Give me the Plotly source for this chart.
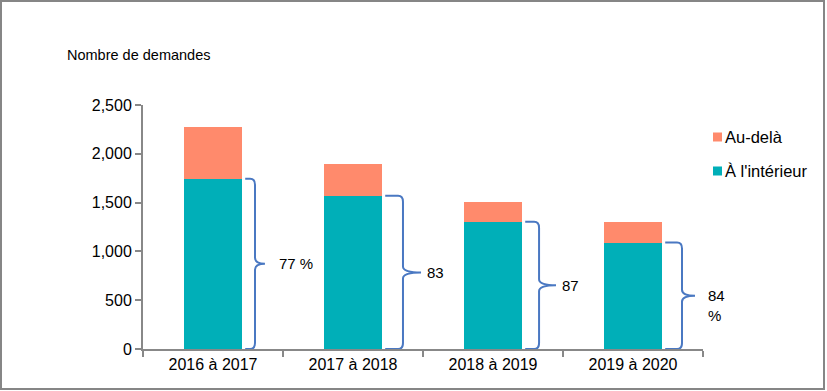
import plotly.graph_objects as go

categories = ["2016 à 2017", "2017 à 2018", "2018 à 2019", "2019 à 2020"]
inside = [1745, 1570, 1305, 1090]
beyond = [525, 325, 205, 215]
pct_labels = ["77 %", "83", "87", "84<br>%"]
legend_names = ["Au-delà", "À l'intérieur"]

W, H = 827, 391
L, R, T, B = 143, 124, 105, 42
pw = W - L - R
ph = H - T - B

xs = list(range(len(categories)))
XR = [-0.5, len(categories) - 0.5]
YR = [0, 2500]
teal = "#00AFB8"
salmon = "#FF8A6C"
blue = "#4A78C2"


def px_x(p):
    return (p - L) / pw


def px_y(p):
    return 1 - (p - T) / ph


fig = go.Figure()
fig.add_trace(go.Bar(x=xs, y=inside, name=legend_names[1], marker=dict(color=teal, line=dict(width=0)),
                     width=0.41, showlegend=False))
fig.add_trace(go.Bar(x=xs, y=beyond, name=legend_names[0], marker=dict(color=salmon, line=dict(width=0)),
                     width=0.41, showlegend=False))

# per-brace horizontal offsets (in category units): hook start, vertical, tip, text
offs = [(0.23, 0.30, 0.371, 0.471), (0.23, 0.357, 0.486, 0.529),
        (0.23, 0.329, 0.45, 0.493), (0.23, 0.35, 0.443, 0.536)]
ypx = (YR[1] - YR[0]) / ph  # data units per pixel
for i, v in enumerate(inside):
    h0, hv, ht, htx = offs[i]
    x0, xv, xt = i + h0, i + hv, i + ht
    r = 0.035
    ry = 6 * ypx
    mid = v / 2
    top, bot = v, 0
    path = (f"M {x0},{top} L {xv - r},{top} Q {xv},{top} {xv},{top - ry} "
            f"L {xv},{mid + ry} Q {xv},{mid} {xt},{mid} Q {xv},{mid} {xv},{mid - ry} "
            f"L {xv},{bot + ry} Q {xv},{bot} {xv - r},{bot} L {x0},{bot}")
    fig.add_shape(type="path", path=path, xref="x", yref="y", line=dict(color=blue, width=2))
    txt = pct_labels[i]
    multi = "<br>" in txt
    fig.add_annotation(x=(i + htx - XR[0]) / (XR[1] - XR[0]), y=(mid - YR[0]) / (YR[1] - YR[0]),
                       xref="paper", yref="paper", text=txt, showarrow=False,
                       xanchor="left", yanchor="top" if multi else "middle",
                       yshift=11 if multi else 0, xshift=-2,
                       font=dict(size=15, color="#000000"), align="left")

fig.add_annotation(x=px_x(67), y=px_y(55), xref="paper", yref="paper",
                   text="Nombre de demandes", showarrow=False, xanchor="left", yanchor="middle",
                   xshift=-2, font=dict(size=14.5, color="#000000"))

# manual legend
leg_colors = [salmon, teal]
leg_y = [137, 171]
for name, col, yy in zip(legend_names, leg_colors, leg_y):
    fig.add_shape(type="rect", xref="paper", yref="paper",
                  x0=px_x(713), x1=px_x(722), y0=px_y(yy + 4.5), y1=px_y(yy - 4.5),
                  line=dict(width=0), fillcolor=col)
    fig.add_annotation(x=px_x(723), y=px_y(yy), xref="paper", yref="paper", text=name,
                       showarrow=False, xanchor="left", yanchor="middle",
                       font=dict(size=16.5, color="#000000"))

# outer frame
fig.add_shape(type="rect", xref="paper", yref="paper",
              x0=px_x(1), x1=px_x(824), y0=px_y(389), y1=px_y(1),
              line=dict(color="#868686", width=2), fillcolor="rgba(0,0,0,0)")

fig.update_layout(
    width=W, height=H, barmode="stack", bargap=0.59,
    margin=dict(l=L, r=R, t=T, b=B, autoexpand=False),
    paper_bgcolor="white", plot_bgcolor="white",
    font=dict(family="Liberation Sans, Arial, sans-serif", size=16, color="#000000"),
    showlegend=False,
    xaxis=dict(range=XR, tickvals=xs, ticktext=categories, ticks="",
               showline=True, linecolor="#888888", linewidth=2, showgrid=False, zeroline=False,
               minor=dict(tickvals=[-0.5, 0.5, 1.5, 2.5, 3.5], ticks="outside", ticklen=6,
                          tickcolor="#888888", tickwidth=2, showgrid=False),
               tickfont=dict(size=16), fixedrange=True),
    yaxis=dict(range=YR, tickvals=[0, 500, 1000, 1500, 2000, 2500], tickformat=",",
               ticks="outside", ticklen=6, tickcolor="#888888", tickwidth=2,
               showline=True, linecolor="#888888", linewidth=2, showgrid=False, zeroline=False,
               tickfont=dict(size=16), fixedrange=True),
)

fig.write_html("out.html", config={"displayModeBar": False},
               post_script="document.body.style.margin='0';document.body.style.overflow='hidden';")
